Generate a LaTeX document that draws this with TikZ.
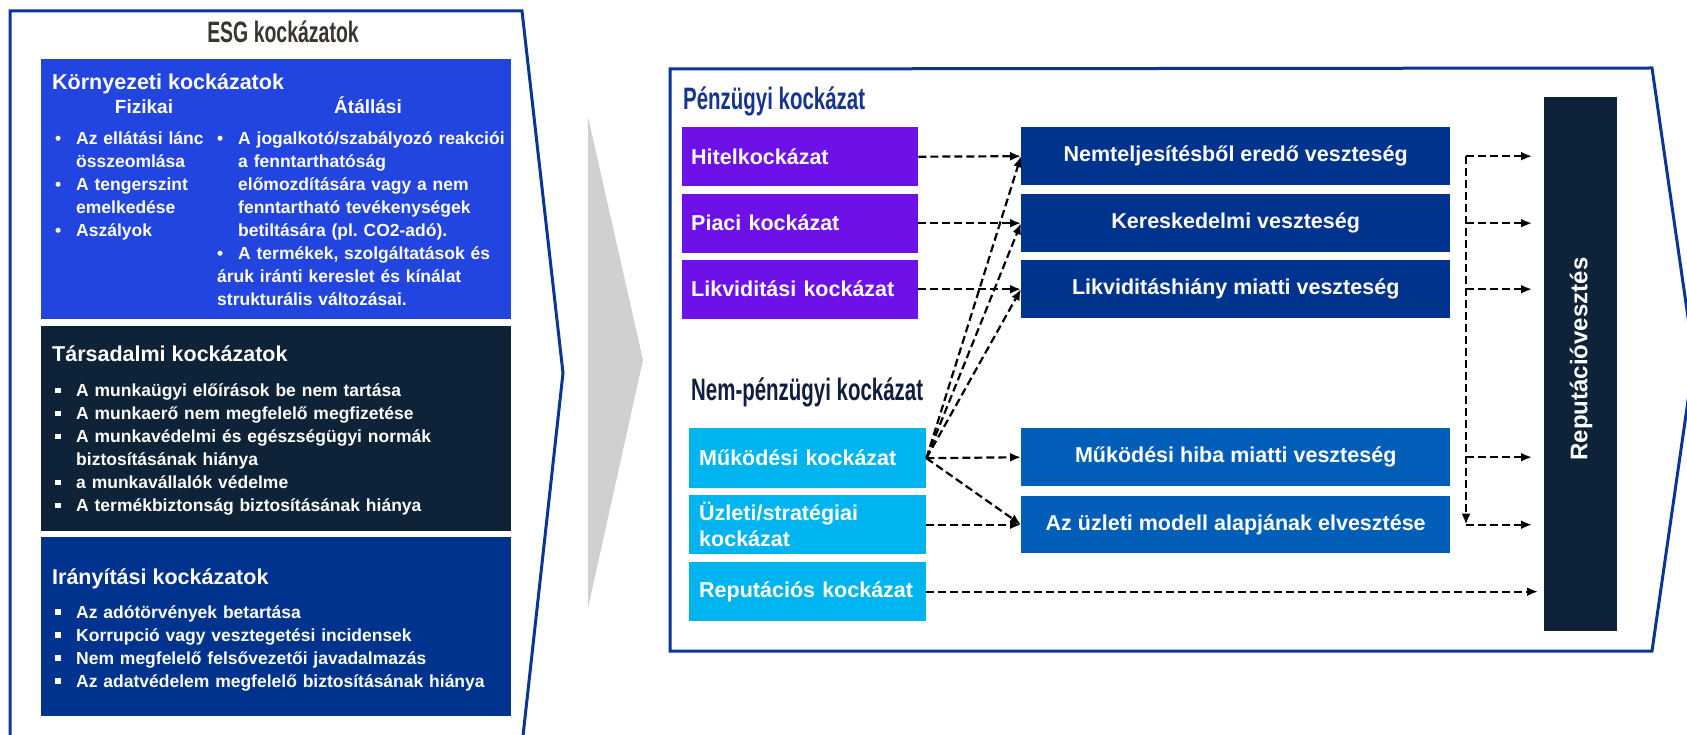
\documentclass[tikz,border=0pt]{standalone}
\usepackage{fontspec}
\setmainfont{Liberation Sans}
\newfontfamily\condfont[FakeStretch=0.66]{Liberation Sans Bold}
\usetikzlibrary{arrows.meta,calc}
\definecolor{keret}{HTML}{0A3592}
\definecolor{kornyezet}{HTML}{2345DF}
\definecolor{tarsadalom}{HTML}{0E2238}
\definecolor{iranyitas}{HTML}{00338D}
\definecolor{penzugy}{HTML}{6E10E8}
\definecolor{nempenzugy}{HTML}{00B5EF}
\definecolor{veszteseg}{HTML}{00338D}
\definecolor{vesztesegb}{HTML}{005EB8}
\definecolor{sotet}{HTML}{0E2239}
\definecolor{szurke}{HTML}{D0D0D0}
\definecolor{esgcim}{HTML}{3A342E}
\definecolor{penzcim}{HTML}{17358C}
\definecolor{nempcim}{HTML}{0F1E3F}
\newcommand{\bpont}{\hangindent=21pt\hangafter=1\noindent\makebox[21pt][l]{\textbullet}\ignorespaces}
\newcommand{\npont}{\hangindent=21pt\hangafter=1\noindent\makebox[21pt][l]{\raisebox{3.5pt}{\rule{5.5pt}{5.5pt}}}\ignorespaces}
\frenchspacing

\begin{document}
\begin{tikzpicture}[x=1pt,y=-1pt,
    >={Latex[length=11pt,width=9pt]},
    nyil/.style={->,line width=2.2pt,dash pattern=on 8pt off 4pt},
    doboz/.style={anchor=north west,inner sep=0pt,text=white,font=\fontsize{21.5}{26}\selectfont\bfseries},
    kockazat/.style={doboz,minimum height=59pt,text width=218pt,inner xsep=9pt,align=left},
    vesz/.style={doboz,minimum height=58pt,minimum width=429pt,align=center},
    lista/.style={anchor=base west,inner sep=0pt,text=white,font=\fontsize{17.5}{23}\selectfont\bfseries},
    cim/.style={anchor=base west,inner sep=0pt,text=white,font=\fontsize{21.5}{26}\selectfont\bfseries},
    fejlec/.style={anchor=base west,inner sep=0pt,font=\condfont\fontsize{31}{36}\selectfont}]
        \useasboundingbox (0,0) rectangle (1687,735);

        \draw[keret,line width=3pt] (10,745) -- (10,11) -- (522,11) -- (563,373) -- (522,745);
        \node[anchor=base,inner sep=0pt,text=esgcim,font=\condfont\fontsize{29.5}{32}\selectfont] (esg) at (283,43) {ESG kockázatok};

        \node[doboz,fill=kornyezet,minimum width=470pt,minimum height=260pt] (korny) at (41,59) {};
        \node[doboz,fill=tarsadalom,minimum width=470pt,minimum height=205pt] (tars) at (41,326) {};
        \node[doboz,fill=iranyitas,minimum width=470pt,minimum height=179pt] (iran) at (41,537) {};

        \node[cim] (kornycim) at (52,90) {Környezeti kockázatok};
        \node[lista,anchor=base,font=\fontsize{19}{23}\selectfont\bfseries] (fizikai) at (144,114) {Fizikai};
        \node[lista,anchor=base,font=\fontsize{19}{23}\selectfont\bfseries] (atallasi) at (368,114) {Átállási};
        \node[lista,text width=160pt] (fizlista) at (55,145) {\bpont Az ellátási lánc\newline összeomlása\par
            \bpont A tengerszint\newline emelkedése\par
            \bpont Aszályok};
        \node[lista,text width=300pt] (atlista) at (217,145) {\bpont A jogalkotó/szabályozó reakciói\newline a fenntarthatóság\newline előmozdítására vagy a nem\newline fenntartható tevékenységek\newline betiltására (pl. CO2-adó).\par
            \bpont A termékek, szolgáltatások és\newline áruk iránti kereslet és kínálat\newline strukturális változásai.};

        \node[cim] (tarscim) at (52,361) {Társadalmi kockázatok};
        \node[lista,text width=440pt] (tarslista) at (55,396.5) {\npont A munkaügyi előírások be nem tartása\par
            \npont A munkaerő nem megfelelő megfizetése\par
            \npont A munkavédelmi és egészségügyi normák\newline biztosításának hiánya\par
            \npont a munkavállalók védelme\par
            \npont A termékbiztonság biztosításának hiánya};

        \node[cim] (irancim) at (52,584) {Irányítási kockázatok};
        \node[lista,text width=440pt] (iranlista) at (55,618) {\npont Az adótörvények betartása\par
            \npont Korrupció vagy vesztegetési incidensek\par
            \npont Nem megfelelő felsővezetői javadalmazás\par
            \npont Az adatvédelem megfelelő biztosításának hiánya};

        \fill[szurke] (588,117) -- (643,360) -- (588,608) -- cycle;

        \draw[keret,line width=3pt] (670,69) -- (1652,68) -- (1694,359) -- (1652,651) -- (670,651) -- cycle;
        \node[fejlec,text=penzcim] (pcim) at (683,110) {Pénzügyi kockázat};
        \node[fejlec,text=nempcim] (npcim) at (691,400) {Nem-pénzügyi kockázat};

        \node[kockazat,fill=penzugy] (hitel) at (682,127) {Hitelkockázat};
        \node[kockazat,fill=penzugy] (piaci) at (682,193.5) {Piaci kockázat};
        \node[kockazat,fill=penzugy] (likvid) at (682,259.5) {Likviditási kockázat};

        \node[kockazat,fill=nempenzugy,text width=217pt,inner xsep=10pt,minimum height=60pt] (mukod) at (689,428) {Működési kockázat};
        \node[kockazat,fill=nempenzugy,text width=217pt,inner xsep=10pt] (uzleti) at (689,495) {Üzleti/stratégiai\\kockázat};
        \node[kockazat,fill=nempenzugy,text width=217pt,inner xsep=10pt] (reputk) at (689,562) {Reputációs kockázat};

        \node[vesz,fill=veszteseg] (nemtelj) at (1021,127) {Nemteljesítésből eredő veszteség};
        \node[vesz,fill=veszteseg] (kereske) at (1021,194) {Kereskedelmi veszteség};
        \node[vesz,fill=veszteseg] (likvhiany) at (1021,260) {Likviditáshiány miatti veszteség};
        \node[vesz,fill=vesztesegb] (mukhiba) at (1021,428) {Működési hiba miatti veszteség};
        \node[vesz,fill=vesztesegb,minimum height=57pt] (uzletimod) at (1021,496) {Az üzleti modell alapjának elvesztése};

        \node[doboz,fill=sotet,minimum width=73pt,minimum height=534pt] (repv) at (1544,97) {};
        \node[text=white,font=\fontsize{24}{28}\selectfont\bfseries,rotate=90] (repvszoveg) at (1581,359) {Reputációvesztés};

        \draw[nyil] (hitel.east) -- (nemtelj.west);
        \draw[nyil] (piaci.east) -- (kereske.west);
        \draw[nyil] (likvid.east) -- (likvhiany.west);
        \foreach \cel in {nemtelj,kereske,likvhiany,mukhiba,uzletimod}
            \draw[nyil] (mukod.east) -- (\cel.west);
        \draw[nyil] (uzleti.east) -- (uzletimod.west);
        \draw[nyil,shorten >=6pt] (reputk.east) -- (reputk.east -| repv.west);

        \coordinate (brk) at (1466,0);
        \draw[nyil] (nemtelj.east -| brk) -- (uzletimod.east -| brk);
        \foreach \cel in {nemtelj,kereske,likvhiany,mukhiba,uzletimod}
            \draw[nyil,shorten >=12pt] (\cel.east -| brk) -- (\cel.east -| repv.west);
    \end{tikzpicture}
\end{document}
